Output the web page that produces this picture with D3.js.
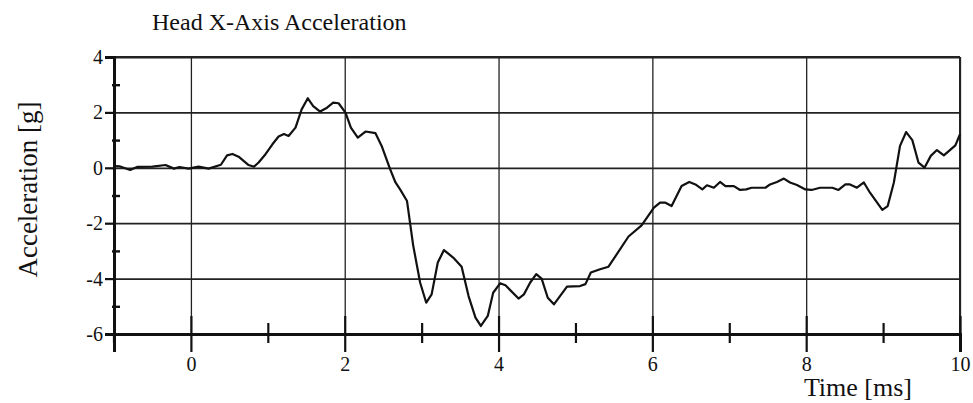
<!DOCTYPE html>
<html>
<head>
<meta charset="utf-8">
<script src="https://cdn.jsdelivr.net/npm/d3@7"></script>
<style>
  body { margin: 0; background: #fff; }
  text { font-family: "Liberation Serif", "Times New Roman", serif; fill: #111; }
</style>
</head>
<body>
<div id="chart-area"></div>
<script>
// values
const timeMs = [-1, -0.92, -0.79, -0.7, -0.5, -0.33, -0.22, -0.15, -0.03, 0.1, 0.23, 0.39, 0.47, 0.54, 0.62,
	0.75, 0.82, 0.88, 0.97, 1.06, 1.14, 1.21, 1.27, 1.36, 1.44, 1.52, 1.59, 1.68, 1.77, 1.85, 1.92, 2.01,
	2.08, 2.17, 2.27, 2.40, 2.48, 2.59, 2.66, 2.72, 2.81, 2.89, 2.98, 3.06, 3.13, 3.21, 3.29, 3.41, 3.52,
	3.61, 3.70, 3.77, 3.86, 3.93, 4.02, 4.09, 4.26, 4.33, 4.41, 4.49, 4.56, 4.64, 4.72, 4.89, 5.06, 5.13,
	5.20, 5.32, 5.43, 5.69, 5.86, 6.02, 6.10, 6.17, 6.25, 6.38, 6.48, 6.56, 6.65, 6.71, 6.80, 6.88, 6.95,
	7.06, 7.14, 7.22, 7.29, 7.47, 7.53, 7.62, 7.71, 7.79, 7.88, 7.99, 8.07, 8.18, 8.34, 8.42, 8.51, 8.57,
	8.66, 8.75, 8.83, 8.99, 9.06, 9.14, 9.22, 9.30, 9.38, 9.46, 9.54, 9.62, 9.70, 9.79, 9.94, 10.0]

const accelG = [0.06, 0.05, -0.08, 0.03, 0.04, 0.1, -0.03, 0.03, -0.03, 0.04, -0.03, 0.11, 0.45, 0.5, 0.4,
	0.1, 0.04, 0.19, 0.49, 0.85, 1.13, 1.22, 1.15, 1.45, 2.11, 2.51, 2.23, 2.03, 2.17, 2.35, 2.33, 1.99,
	1.45, 1.09, 1.31, 1.25, 0.79, -0.05, -0.53, -0.78, -1.2, -2.8, -4.14, -4.87, -4.57, -3.42, -2.97, -3.24, -3.57,
	-4.63, -5.41, -5.71, -5.35, -4.51, -4.17, -4.24, -4.72, -4.57, -4.15, -3.84, -4.0, -4.69, -4.93, -4.29, -4.27, -4.2,
	-3.78, -3.66, -3.57, -2.48, -2.08, -1.44, -1.26, -1.26, -1.38, -0.66, -0.51, -0.6, -0.78, -0.63, -0.72, -0.51, -0.66,
	-0.66, -0.8, -0.78, -0.72, -0.72, -0.6, -0.51, -0.39, -0.53, -0.62, -0.78, -0.8, -0.72, -0.72, -0.8, -0.6, -0.6,
	-0.72, -0.53, -0.9, -1.52, -1.38, -0.53, 0.79, 1.29, 1.0, 0.19, 0.01, 0.43, 0.64, 0.45, 0.81, 1.21]

const xMajor = [0, 2, 4, 6, 8, 10]
const xMinor = [-1, 1, 3, 5, 7, 9]
const yMajor = [-6, -4, -2, 0, 2, 4]
const yMinor = [-5, -3, -1, 1, 3]

const W = 973
const H = 403
const MARGIN = { LEFT: 114, RIGHT: 13, TOP: 57, BOTTOM: 69 }
const WIDTH = W - MARGIN.LEFT - MARGIN.RIGHT
const HEIGHT = H - MARGIN.TOP - MARGIN.BOTTOM
const SERIF = '"Liberation Serif", "Times New Roman", serif'

const svg = d3.select('#chart-area')
	.append('svg')
	.attr('width', W)
	.attr('height', H)

const g = svg.append('g')
	.attr('transform', `translate(${MARGIN.LEFT}, ${MARGIN.TOP})`)

const x = d3.scaleLinear().domain([-1, 10]).range([0, WIDTH])
const y = d3.scaleLinear().domain([-6, 4]).range([HEIGHT, 0])

// plain hyphen for negatives, like the scan
const plainLabel = d => String(d)

// grid
const gridX = g.append('g')
	.attr('transform', `translate(0, ${HEIGHT})`)
	.call(d3.axisBottom(x).tickValues(xMajor).tickSize(-HEIGHT).tickFormat(''))
gridX.select('.domain').remove()
gridX.selectAll('line').attr('stroke', '#222').attr('stroke-width', 1.3)

const gridY = g.append('g')
	.call(d3.axisLeft(y).tickValues(yMajor).tickSize(-WIDTH).tickFormat(''))
gridY.select('.domain').remove()
gridY.selectAll('line').attr('stroke', '#222').attr('stroke-width', 1.8)

// frame: top and right a bit heavier
g.append('line').attr('x1', 0).attr('x2', WIDTH).attr('y1', 0).attr('y2', 0)
	.attr('stroke', '#222').attr('stroke-width', 2.2)
g.append('line').attr('x1', WIDTH).attr('x2', WIDTH).attr('y1', 0).attr('y2', HEIGHT)
	.attr('stroke', '#222').attr('stroke-width', 2)

// x axis
const xAxisGroup = g.append('g')
	.attr('transform', `translate(0, ${HEIGHT})`)
	.call(d3.axisBottom(x).tickValues(xMajor).tickSize(18).tickPadding(5).tickFormat(plainLabel))
xAxisGroup.attr('font-family', null)
xAxisGroup.select('.domain').attr('stroke', '#111').attr('stroke-width', 3)
xAxisGroup.selectAll('.tick line').attr('y1', -18).attr('stroke', '#111').attr('stroke-width', 2.2)
xAxisGroup.selectAll('text').style('font-size', '20px').style('font-family', SERIF)

const xMinorGroup = g.append('g')
	.attr('transform', `translate(0, ${HEIGHT})`)
	.call(d3.axisBottom(x).tickValues(xMinor).tickSize(9).tickFormat(''))
xMinorGroup.select('.domain').remove()
xMinorGroup.selectAll('.tick line').attr('y1', -11).attr('stroke', '#111').attr('stroke-width', 2.2)

// y axis
const yAxisGroup = g.append('g')
	.call(d3.axisLeft(y).tickValues(yMajor).tickSize(9).tickPadding(2).tickFormat(plainLabel))
yAxisGroup.attr('font-family', null)
yAxisGroup.select('.domain').attr('stroke', '#111').attr('stroke-width', 3)
yAxisGroup.selectAll('.tick line').attr('stroke', '#111').attr('stroke-width', 2.2)
yAxisGroup.selectAll('text').style('font-size', '20px').style('font-family', SERIF)

const yMinorGroup = g.append('g')
	.call(d3.axisLeft(y).tickValues(yMinor).tickSize(2).tickFormat(''))
yMinorGroup.select('.domain').remove()
yMinorGroup.selectAll('.tick line').attr('x1', 6).attr('stroke', '#111').attr('stroke-width', 2.4)

// left axis runs a little below the x axis
g.append('line').attr('x1', 0).attr('x2', 0).attr('y1', HEIGHT).attr('y2', HEIGHT + 9)
	.attr('stroke', '#111').attr('stroke-width', 2.2)

// the trace
const points = timeMs.map((t, i) => ({ t: t, a: accelG[i] }))
const line = d3.line()
	.x(d => x(d.t))
	.y(d => y(d.a))

g.append('path')
	.datum(points)
	.attr('fill', 'none')
	.attr('stroke', '#111')
	.attr('stroke-width', 2.2)
	.attr('stroke-linejoin', 'round')
	.attr('d', line)

// labels
svg.append('text')
	.attr('x', 152)
	.attr('y', 30)
	.style('font-size', '24px')
	.text('Head X-Axis Acceleration')

svg.append('text')
	.attr('transform', `translate(37, ${MARGIN.TOP + HEIGHT / 2 - 6}) rotate(-90)`)
	.style('text-anchor', 'middle')
	.style('font-size', '27px')
	.text('Acceleration [g]')

svg.append('text')
	.attr('x', 912)
	.attr('y', 396)
	.style('text-anchor', 'end')
	.style('font-size', '26px')
	.text('Time [ms]')
</script>
</body>
</html>
